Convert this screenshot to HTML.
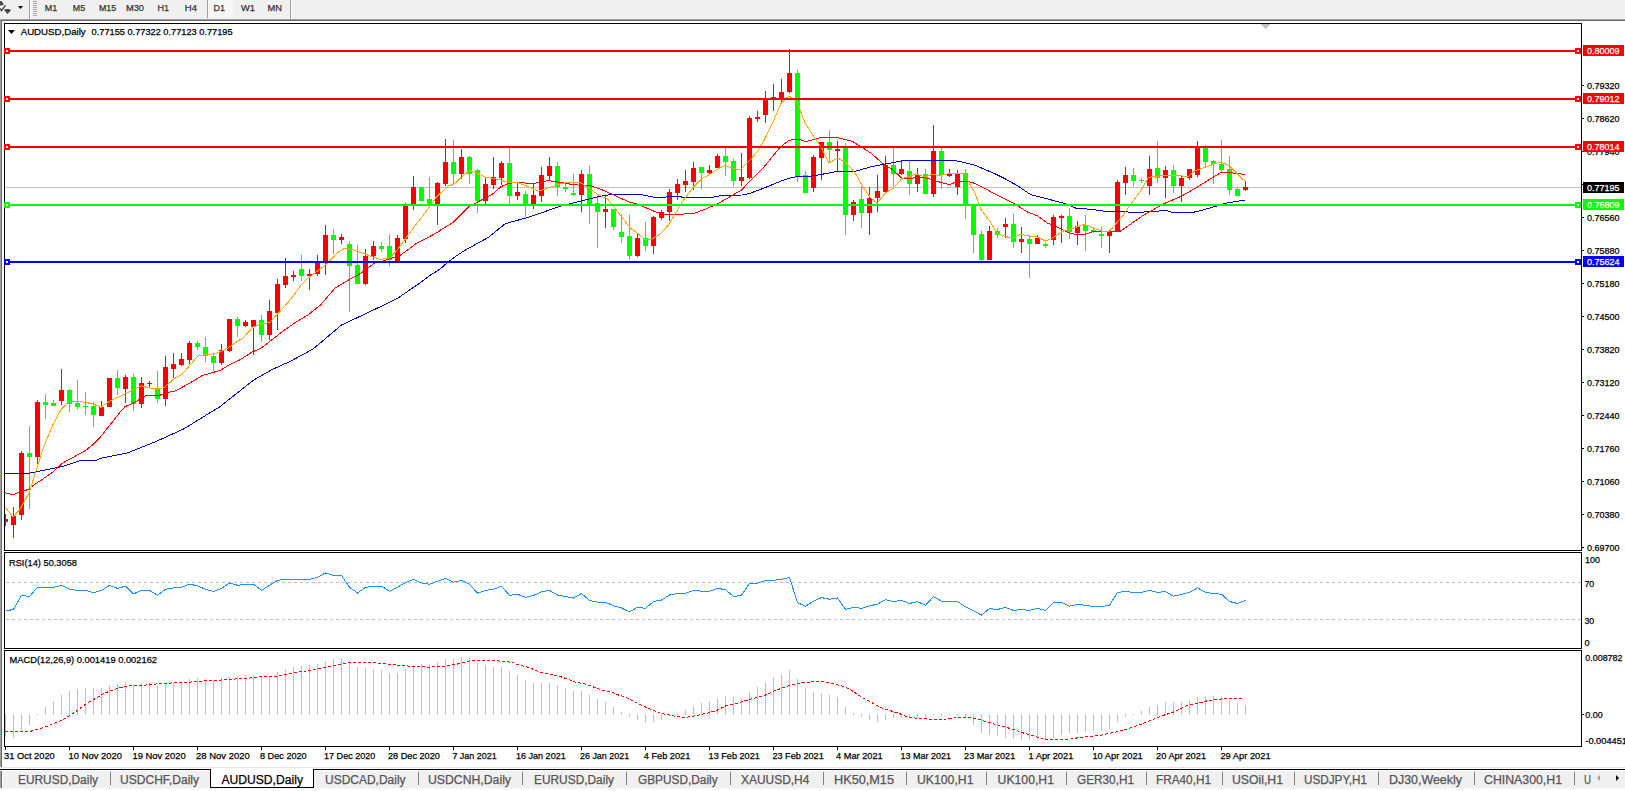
<!DOCTYPE html><html><head><meta charset="utf-8"><title>AUDUSD,Daily</title><style>
html,body{margin:0;padding:0;width:1625px;height:791px;overflow:hidden;background:#f0f0f0}
svg{display:block;position:absolute;left:0;top:0}
text{font-family:"Liberation Sans",sans-serif;white-space:pre;stroke:currentColor;stroke-width:0.25px}
</style></head><body>
<svg width="1625" height="791" viewBox="0 0 1625 791">
<defs><clipPath id="cm"><rect x="5" y="24" width="1576" height="526"/></clipPath>
<clipPath id="cr"><rect x="5" y="553" width="1576" height="95"/></clipPath>
<clipPath id="cd"><rect x="5" y="651" width="1576" height="95"/></clipPath></defs>
<g shape-rendering="crispEdges">
<rect x="0" y="0" width="1625" height="19" fill="#f0f0f0"/>
<rect x="0" y="19" width="1625" height="1" fill="#a0a0a0"/>
<rect x="0" y="20" width="1625" height="1" fill="#696969"/>
<rect x="2" y="21" width="1623" height="746" fill="#ffffff"/>
<rect x="0" y="19" width="1" height="748" fill="#a0a0a0"/>
<rect x="1" y="20" width="1" height="747" fill="#696969"/>
<rect x="29" y="0" width="1" height="19" fill="#a0a0a0"/>
<rect x="30" y="0" width="1" height="19" fill="#ffffff"/>
<rect x="33" y="1" width="4" height="1" fill="#a8a8a8"/>
<rect x="33" y="3" width="4" height="1" fill="#a8a8a8"/>
<rect x="33" y="5" width="4" height="1" fill="#a8a8a8"/>
<rect x="33" y="7" width="4" height="1" fill="#a8a8a8"/>
<rect x="33" y="9" width="4" height="1" fill="#a8a8a8"/>
<rect x="33" y="11" width="4" height="1" fill="#a8a8a8"/>
<rect x="33" y="13" width="4" height="1" fill="#a8a8a8"/>
<rect x="33" y="15" width="4" height="1" fill="#a8a8a8"/>
<rect x="207" y="0" width="1" height="18" fill="#a0a0a0"/>
<rect x="208" y="0" width="25" height="18" fill="#f6f6f6"/>
<rect x="290" y="0" width="1" height="19" fill="#a0a0a0"/>
<rect x="291" y="0" width="1" height="19" fill="#ffffff"/>
<rect x="4" y="23" width="1578" height="1" fill="#000"/>
<rect x="4" y="550" width="1578" height="1" fill="#000"/>
<rect x="4" y="23" width="1" height="528" fill="#000"/>
<rect x="1581" y="23" width="1" height="528" fill="#000"/>
<rect x="4" y="552" width="1578" height="1" fill="#000"/>
<rect x="4" y="648" width="1578" height="1" fill="#000"/>
<rect x="4" y="552" width="1" height="97" fill="#000"/>
<rect x="1581" y="552" width="1" height="97" fill="#000"/>
<rect x="4" y="650" width="1578" height="1" fill="#000"/>
<rect x="4" y="746" width="1578" height="1" fill="#000"/>
<rect x="4" y="650" width="1" height="97" fill="#000"/>
<rect x="1581" y="650" width="1" height="97" fill="#000"/>
<rect x="0" y="767" width="1625" height="1" fill="#e3e3e3"/>
<rect x="0" y="768" width="1625" height="1" fill="#ffffff"/>
<rect x="0" y="769" width="1625" height="1" fill="#000000"/>
<rect x="0" y="770" width="1625" height="1" fill="#ffffff"/>
<rect x="0" y="771" width="1625" height="17" fill="#f0f0f0"/>
<rect x="0" y="771" width="1" height="17" fill="#a0a0a0"/>
<rect x="1" y="771" width="1" height="17" fill="#696969"/>
<rect x="2" y="771" width="1" height="17" fill="#ffffff"/>
<rect x="0" y="788" width="1625" height="1" fill="#f6f6f6"/>
<rect x="0" y="789" width="1625" height="2" fill="#ffffff"/>
</g>
<g clip-path="url(#cm)" shape-rendering="crispEdges">
<rect x="5" y="187" width="1576" height="1" fill="#c0c0c0"/>
<rect x="5" y="514" width="1" height="12" fill="#ff0000"/>
<rect x="3" y="519" width="5" height="3" fill="#ff0000"/>
<rect x="13" y="507" width="1" height="31" fill="#ff0000"/>
<rect x="11" y="516" width="5" height="9" fill="#ff0000"/>
<rect x="21" y="451" width="1" height="69" fill="#ff0000"/>
<rect x="19" y="453" width="5" height="62" fill="#ff0000"/>
<rect x="29" y="426" width="1" height="83" fill="#00ff00"/>
<rect x="27" y="453" width="5" height="4" fill="#00ff00"/>
<rect x="37" y="400" width="1" height="64" fill="#ff0000"/>
<rect x="35" y="402" width="5" height="55" fill="#ff0000"/>
<rect x="45" y="394" width="1" height="25" fill="#00ff00"/>
<rect x="43" y="402" width="5" height="3" fill="#00ff00"/>
<rect x="53" y="400" width="1" height="6" fill="#00ff00"/>
<rect x="51" y="403" width="5" height="3" fill="#00ff00"/>
<rect x="61" y="369" width="1" height="36" fill="#ff0000"/>
<rect x="59" y="390" width="5" height="11" fill="#ff0000"/>
<rect x="69" y="389" width="1" height="23" fill="#00ff00"/>
<rect x="67" y="390" width="5" height="14" fill="#00ff00"/>
<rect x="77" y="380" width="1" height="29" fill="#00ff00"/>
<rect x="75" y="403" width="5" height="4" fill="#00ff00"/>
<rect x="85" y="392" width="1" height="23" fill="#00ff00"/>
<rect x="83" y="406" width="5" height="1" fill="#00ff00"/>
<rect x="93" y="402" width="1" height="25" fill="#00ff00"/>
<rect x="91" y="406" width="5" height="9" fill="#00ff00"/>
<rect x="101" y="401" width="1" height="15" fill="#ff0000"/>
<rect x="99" y="407" width="5" height="9" fill="#ff0000"/>
<rect x="109" y="378" width="1" height="29" fill="#ff0000"/>
<rect x="107" y="378" width="5" height="29" fill="#ff0000"/>
<rect x="117" y="370" width="1" height="25" fill="#00ff00"/>
<rect x="115" y="378" width="5" height="10" fill="#00ff00"/>
<rect x="125" y="375" width="1" height="28" fill="#ff0000"/>
<rect x="123" y="377" width="5" height="12" fill="#ff0000"/>
<rect x="133" y="374" width="1" height="37" fill="#00ff00"/>
<rect x="131" y="377" width="5" height="27" fill="#00ff00"/>
<rect x="141" y="377" width="1" height="31" fill="#ff0000"/>
<rect x="139" y="383" width="5" height="21" fill="#ff0000"/>
<rect x="149" y="381" width="1" height="6" fill="#ff0000"/>
<rect x="147" y="383" width="5" height="1" fill="#ff0000"/>
<rect x="157" y="371" width="1" height="32" fill="#00ff00"/>
<rect x="155" y="389" width="5" height="10" fill="#00ff00"/>
<rect x="165" y="356" width="1" height="50" fill="#ff0000"/>
<rect x="163" y="367" width="5" height="32" fill="#ff0000"/>
<rect x="173" y="353" width="1" height="25" fill="#ff0000"/>
<rect x="171" y="364" width="5" height="5" fill="#ff0000"/>
<rect x="181" y="353" width="1" height="13" fill="#ff0000"/>
<rect x="179" y="359" width="5" height="6" fill="#ff0000"/>
<rect x="189" y="341" width="1" height="23" fill="#ff0000"/>
<rect x="187" y="343" width="5" height="17" fill="#ff0000"/>
<rect x="197" y="341" width="1" height="9" fill="#00ff00"/>
<rect x="195" y="343" width="5" height="4" fill="#00ff00"/>
<rect x="205" y="337" width="1" height="25" fill="#00ff00"/>
<rect x="203" y="347" width="5" height="9" fill="#00ff00"/>
<rect x="213" y="354" width="1" height="17" fill="#00ff00"/>
<rect x="211" y="356" width="5" height="7" fill="#00ff00"/>
<rect x="221" y="344" width="1" height="21" fill="#ff0000"/>
<rect x="219" y="350" width="5" height="13" fill="#ff0000"/>
<rect x="229" y="319" width="1" height="33" fill="#ff0000"/>
<rect x="227" y="319" width="5" height="32" fill="#ff0000"/>
<rect x="237" y="317" width="1" height="20" fill="#00ff00"/>
<rect x="235" y="319" width="5" height="7" fill="#00ff00"/>
<rect x="245" y="320" width="1" height="7" fill="#ff0000"/>
<rect x="243" y="322" width="5" height="4" fill="#ff0000"/>
<rect x="253" y="320" width="1" height="35" fill="#ff0000"/>
<rect x="251" y="320" width="5" height="7" fill="#ff0000"/>
<rect x="261" y="315" width="1" height="27" fill="#00ff00"/>
<rect x="259" y="320" width="5" height="15" fill="#00ff00"/>
<rect x="269" y="300" width="1" height="40" fill="#ff0000"/>
<rect x="267" y="311" width="5" height="24" fill="#ff0000"/>
<rect x="277" y="279" width="1" height="51" fill="#ff0000"/>
<rect x="275" y="284" width="5" height="29" fill="#ff0000"/>
<rect x="285" y="258" width="1" height="30" fill="#ff0000"/>
<rect x="283" y="276" width="5" height="9" fill="#ff0000"/>
<rect x="293" y="271" width="1" height="10" fill="#ff0000"/>
<rect x="291" y="275" width="5" height="2" fill="#ff0000"/>
<rect x="301" y="255" width="1" height="26" fill="#00ff00"/>
<rect x="299" y="269" width="5" height="7" fill="#00ff00"/>
<rect x="309" y="269" width="1" height="21" fill="#ff0000"/>
<rect x="307" y="274" width="5" height="2" fill="#ff0000"/>
<rect x="317" y="255" width="1" height="21" fill="#ff0000"/>
<rect x="315" y="262" width="5" height="12" fill="#ff0000"/>
<rect x="325" y="225" width="1" height="50" fill="#ff0000"/>
<rect x="323" y="235" width="5" height="27" fill="#ff0000"/>
<rect x="333" y="229" width="1" height="25" fill="#00ff00"/>
<rect x="331" y="235" width="5" height="5" fill="#00ff00"/>
<rect x="341" y="234" width="1" height="10" fill="#ff0000"/>
<rect x="339" y="237" width="5" height="3" fill="#ff0000"/>
<rect x="349" y="241" width="1" height="71" fill="#00ff00"/>
<rect x="347" y="244" width="5" height="22" fill="#00ff00"/>
<rect x="357" y="245" width="1" height="39" fill="#00ff00"/>
<rect x="355" y="265" width="5" height="19" fill="#00ff00"/>
<rect x="365" y="249" width="1" height="36" fill="#ff0000"/>
<rect x="363" y="256" width="5" height="28" fill="#ff0000"/>
<rect x="373" y="241" width="1" height="19" fill="#ff0000"/>
<rect x="371" y="246" width="5" height="10" fill="#ff0000"/>
<rect x="381" y="242" width="1" height="10" fill="#00ff00"/>
<rect x="379" y="246" width="5" height="3" fill="#00ff00"/>
<rect x="389" y="234" width="1" height="32" fill="#00ff00"/>
<rect x="387" y="246" width="5" height="14" fill="#00ff00"/>
<rect x="397" y="235" width="1" height="26" fill="#ff0000"/>
<rect x="395" y="238" width="5" height="23" fill="#ff0000"/>
<rect x="405" y="203" width="1" height="40" fill="#ff0000"/>
<rect x="403" y="205" width="5" height="34" fill="#ff0000"/>
<rect x="413" y="176" width="1" height="34" fill="#ff0000"/>
<rect x="411" y="187" width="5" height="17" fill="#ff0000"/>
<rect x="421" y="187" width="1" height="14" fill="#00ff00"/>
<rect x="419" y="187" width="5" height="14" fill="#00ff00"/>
<rect x="429" y="177" width="1" height="29" fill="#00ff00"/>
<rect x="427" y="199" width="5" height="5" fill="#00ff00"/>
<rect x="437" y="182" width="1" height="43" fill="#ff0000"/>
<rect x="435" y="183" width="5" height="21" fill="#ff0000"/>
<rect x="445" y="139" width="1" height="47" fill="#ff0000"/>
<rect x="443" y="162" width="5" height="22" fill="#ff0000"/>
<rect x="453" y="140" width="1" height="45" fill="#00ff00"/>
<rect x="451" y="162" width="5" height="12" fill="#00ff00"/>
<rect x="461" y="149" width="1" height="30" fill="#ff0000"/>
<rect x="459" y="157" width="5" height="17" fill="#ff0000"/>
<rect x="469" y="156" width="1" height="28" fill="#00ff00"/>
<rect x="467" y="157" width="5" height="17" fill="#00ff00"/>
<rect x="477" y="169" width="1" height="44" fill="#00ff00"/>
<rect x="475" y="170" width="5" height="31" fill="#00ff00"/>
<rect x="485" y="178" width="1" height="26" fill="#ff0000"/>
<rect x="483" y="184" width="5" height="17" fill="#ff0000"/>
<rect x="493" y="157" width="1" height="32" fill="#ff0000"/>
<rect x="491" y="177" width="5" height="8" fill="#ff0000"/>
<rect x="501" y="161" width="1" height="24" fill="#ff0000"/>
<rect x="499" y="163" width="5" height="15" fill="#ff0000"/>
<rect x="509" y="148" width="1" height="56" fill="#00ff00"/>
<rect x="507" y="163" width="5" height="33" fill="#00ff00"/>
<rect x="517" y="183" width="1" height="17" fill="#ff0000"/>
<rect x="515" y="192" width="5" height="4" fill="#ff0000"/>
<rect x="525" y="191" width="1" height="26" fill="#00ff00"/>
<rect x="523" y="194" width="5" height="10" fill="#00ff00"/>
<rect x="533" y="183" width="1" height="26" fill="#ff0000"/>
<rect x="531" y="195" width="5" height="9" fill="#ff0000"/>
<rect x="541" y="167" width="1" height="35" fill="#ff0000"/>
<rect x="539" y="175" width="5" height="21" fill="#ff0000"/>
<rect x="549" y="157" width="1" height="24" fill="#ff0000"/>
<rect x="547" y="166" width="5" height="10" fill="#ff0000"/>
<rect x="557" y="162" width="1" height="34" fill="#00ff00"/>
<rect x="555" y="166" width="5" height="21" fill="#00ff00"/>
<rect x="565" y="184" width="1" height="8" fill="#00ff00"/>
<rect x="563" y="187" width="5" height="2" fill="#00ff00"/>
<rect x="573" y="174" width="1" height="22" fill="#00ff00"/>
<rect x="571" y="193" width="5" height="2" fill="#00ff00"/>
<rect x="581" y="170" width="1" height="42" fill="#ff0000"/>
<rect x="579" y="174" width="5" height="21" fill="#ff0000"/>
<rect x="589" y="166" width="1" height="58" fill="#00ff00"/>
<rect x="587" y="174" width="5" height="30" fill="#00ff00"/>
<rect x="597" y="196" width="1" height="52" fill="#00ff00"/>
<rect x="595" y="203" width="5" height="9" fill="#00ff00"/>
<rect x="605" y="196" width="1" height="32" fill="#ff0000"/>
<rect x="603" y="209" width="5" height="3" fill="#ff0000"/>
<rect x="613" y="209" width="1" height="21" fill="#00ff00"/>
<rect x="611" y="209" width="5" height="18" fill="#00ff00"/>
<rect x="621" y="214" width="1" height="29" fill="#00ff00"/>
<rect x="619" y="232" width="5" height="5" fill="#00ff00"/>
<rect x="629" y="215" width="1" height="45" fill="#00ff00"/>
<rect x="627" y="236" width="5" height="20" fill="#00ff00"/>
<rect x="637" y="233" width="1" height="24" fill="#ff0000"/>
<rect x="635" y="238" width="5" height="18" fill="#ff0000"/>
<rect x="645" y="222" width="1" height="29" fill="#00ff00"/>
<rect x="643" y="238" width="5" height="8" fill="#00ff00"/>
<rect x="653" y="216" width="1" height="38" fill="#ff0000"/>
<rect x="651" y="217" width="5" height="29" fill="#ff0000"/>
<rect x="661" y="210" width="1" height="10" fill="#ff0000"/>
<rect x="659" y="212" width="5" height="6" fill="#ff0000"/>
<rect x="669" y="189" width="1" height="32" fill="#ff0000"/>
<rect x="667" y="192" width="5" height="20" fill="#ff0000"/>
<rect x="677" y="179" width="1" height="21" fill="#ff0000"/>
<rect x="675" y="184" width="5" height="9" fill="#ff0000"/>
<rect x="685" y="170" width="1" height="22" fill="#ff0000"/>
<rect x="683" y="181" width="5" height="4" fill="#ff0000"/>
<rect x="693" y="162" width="1" height="28" fill="#ff0000"/>
<rect x="691" y="168" width="5" height="14" fill="#ff0000"/>
<rect x="701" y="167" width="1" height="22" fill="#00ff00"/>
<rect x="699" y="167" width="5" height="6" fill="#00ff00"/>
<rect x="709" y="165" width="1" height="9" fill="#ff0000"/>
<rect x="707" y="170" width="5" height="3" fill="#ff0000"/>
<rect x="717" y="154" width="1" height="14" fill="#ff0000"/>
<rect x="715" y="156" width="5" height="12" fill="#ff0000"/>
<rect x="725" y="148" width="1" height="28" fill="#00ff00"/>
<rect x="723" y="156" width="5" height="6" fill="#00ff00"/>
<rect x="733" y="159" width="1" height="27" fill="#00ff00"/>
<rect x="731" y="161" width="5" height="20" fill="#00ff00"/>
<rect x="741" y="153" width="1" height="33" fill="#ff0000"/>
<rect x="739" y="177" width="5" height="4" fill="#ff0000"/>
<rect x="749" y="116" width="1" height="63" fill="#ff0000"/>
<rect x="747" y="118" width="5" height="60" fill="#ff0000"/>
<rect x="757" y="111" width="1" height="11" fill="#ff0000"/>
<rect x="755" y="117" width="5" height="2" fill="#ff0000"/>
<rect x="765" y="91" width="1" height="32" fill="#ff0000"/>
<rect x="763" y="99" width="5" height="16" fill="#ff0000"/>
<rect x="773" y="84" width="1" height="27" fill="#ff0000"/>
<rect x="771" y="97" width="5" height="1" fill="#ff0000"/>
<rect x="781" y="79" width="1" height="25" fill="#ff0000"/>
<rect x="779" y="92" width="5" height="8" fill="#ff0000"/>
<rect x="789" y="49" width="1" height="44" fill="#ff0000"/>
<rect x="787" y="73" width="5" height="19" fill="#ff0000"/>
<rect x="797" y="70" width="1" height="112" fill="#00ff00"/>
<rect x="795" y="73" width="5" height="103" fill="#00ff00"/>
<rect x="805" y="171" width="1" height="22" fill="#00ff00"/>
<rect x="803" y="175" width="5" height="18" fill="#00ff00"/>
<rect x="813" y="155" width="1" height="37" fill="#ff0000"/>
<rect x="811" y="157" width="5" height="31" fill="#ff0000"/>
<rect x="821" y="142" width="1" height="38" fill="#ff0000"/>
<rect x="819" y="142" width="5" height="16" fill="#ff0000"/>
<rect x="829" y="130" width="1" height="33" fill="#00ff00"/>
<rect x="827" y="142" width="5" height="8" fill="#00ff00"/>
<rect x="837" y="141" width="1" height="30" fill="#ff0000"/>
<rect x="835" y="149" width="5" height="2" fill="#ff0000"/>
<rect x="845" y="143" width="1" height="92" fill="#00ff00"/>
<rect x="843" y="148" width="5" height="67" fill="#00ff00"/>
<rect x="853" y="200" width="1" height="21" fill="#ff0000"/>
<rect x="851" y="202" width="5" height="13" fill="#ff0000"/>
<rect x="861" y="186" width="1" height="42" fill="#00ff00"/>
<rect x="859" y="199" width="5" height="14" fill="#00ff00"/>
<rect x="869" y="187" width="1" height="48" fill="#ff0000"/>
<rect x="867" y="198" width="5" height="15" fill="#ff0000"/>
<rect x="877" y="175" width="1" height="37" fill="#ff0000"/>
<rect x="875" y="191" width="5" height="7" fill="#ff0000"/>
<rect x="885" y="156" width="1" height="36" fill="#ff0000"/>
<rect x="883" y="165" width="5" height="27" fill="#ff0000"/>
<rect x="893" y="148" width="1" height="38" fill="#00ff00"/>
<rect x="891" y="165" width="5" height="9" fill="#00ff00"/>
<rect x="901" y="160" width="1" height="15" fill="#ff0000"/>
<rect x="899" y="169" width="5" height="5" fill="#ff0000"/>
<rect x="909" y="161" width="1" height="34" fill="#00ff00"/>
<rect x="907" y="171" width="5" height="13" fill="#00ff00"/>
<rect x="917" y="168" width="1" height="24" fill="#ff0000"/>
<rect x="915" y="175" width="5" height="9" fill="#ff0000"/>
<rect x="925" y="169" width="1" height="25" fill="#00ff00"/>
<rect x="923" y="174" width="5" height="20" fill="#00ff00"/>
<rect x="933" y="125" width="1" height="72" fill="#ff0000"/>
<rect x="931" y="151" width="5" height="43" fill="#ff0000"/>
<rect x="941" y="148" width="1" height="41" fill="#00ff00"/>
<rect x="939" y="151" width="5" height="24" fill="#00ff00"/>
<rect x="949" y="169" width="1" height="8" fill="#ff0000"/>
<rect x="947" y="173" width="5" height="3" fill="#ff0000"/>
<rect x="957" y="170" width="1" height="25" fill="#ff0000"/>
<rect x="955" y="174" width="5" height="13" fill="#ff0000"/>
<rect x="965" y="169" width="1" height="50" fill="#00ff00"/>
<rect x="963" y="173" width="5" height="32" fill="#00ff00"/>
<rect x="973" y="205" width="1" height="48" fill="#00ff00"/>
<rect x="971" y="205" width="5" height="30" fill="#00ff00"/>
<rect x="981" y="231" width="1" height="30" fill="#00ff00"/>
<rect x="979" y="234" width="5" height="26" fill="#00ff00"/>
<rect x="989" y="226" width="1" height="34" fill="#ff0000"/>
<rect x="987" y="231" width="5" height="29" fill="#ff0000"/>
<rect x="997" y="228" width="1" height="10" fill="#00ff00"/>
<rect x="995" y="231" width="5" height="4" fill="#00ff00"/>
<rect x="1005" y="218" width="1" height="20" fill="#ff0000"/>
<rect x="1003" y="224" width="5" height="3" fill="#ff0000"/>
<rect x="1013" y="214" width="1" height="34" fill="#00ff00"/>
<rect x="1011" y="224" width="5" height="18" fill="#00ff00"/>
<rect x="1021" y="227" width="1" height="26" fill="#ff0000"/>
<rect x="1019" y="239" width="5" height="3" fill="#ff0000"/>
<rect x="1029" y="235" width="1" height="43" fill="#00ff00"/>
<rect x="1027" y="239" width="5" height="5" fill="#00ff00"/>
<rect x="1037" y="235" width="1" height="9" fill="#ff0000"/>
<rect x="1035" y="238" width="5" height="6" fill="#ff0000"/>
<rect x="1045" y="243" width="1" height="5" fill="#00ff00"/>
<rect x="1043" y="244" width="5" height="2" fill="#00ff00"/>
<rect x="1053" y="215" width="1" height="30" fill="#ff0000"/>
<rect x="1051" y="217" width="5" height="23" fill="#ff0000"/>
<rect x="1061" y="215" width="1" height="28" fill="#ff0000"/>
<rect x="1059" y="216" width="5" height="2" fill="#ff0000"/>
<rect x="1069" y="208" width="1" height="31" fill="#00ff00"/>
<rect x="1067" y="216" width="5" height="16" fill="#00ff00"/>
<rect x="1077" y="221" width="1" height="24" fill="#ff0000"/>
<rect x="1075" y="226" width="5" height="7" fill="#ff0000"/>
<rect x="1085" y="215" width="1" height="36" fill="#00ff00"/>
<rect x="1083" y="225" width="5" height="6" fill="#00ff00"/>
<rect x="1093" y="228" width="1" height="5" fill="#00ff00"/>
<rect x="1091" y="230" width="5" height="2" fill="#00ff00"/>
<rect x="1101" y="227" width="1" height="21" fill="#00ff00"/>
<rect x="1099" y="234" width="5" height="2" fill="#00ff00"/>
<rect x="1109" y="230" width="1" height="23" fill="#ff0000"/>
<rect x="1107" y="231" width="5" height="5" fill="#ff0000"/>
<rect x="1117" y="180" width="1" height="52" fill="#ff0000"/>
<rect x="1115" y="182" width="5" height="50" fill="#ff0000"/>
<rect x="1125" y="167" width="1" height="28" fill="#ff0000"/>
<rect x="1123" y="175" width="5" height="8" fill="#ff0000"/>
<rect x="1133" y="168" width="1" height="18" fill="#00ff00"/>
<rect x="1131" y="175" width="5" height="6" fill="#00ff00"/>
<rect x="1141" y="178" width="1" height="5" fill="#00ff00"/>
<rect x="1139" y="180" width="5" height="1" fill="#00ff00"/>
<rect x="1149" y="156" width="1" height="39" fill="#ff0000"/>
<rect x="1147" y="169" width="5" height="17" fill="#ff0000"/>
<rect x="1157" y="141" width="1" height="42" fill="#00ff00"/>
<rect x="1155" y="168" width="5" height="10" fill="#00ff00"/>
<rect x="1165" y="166" width="1" height="32" fill="#ff0000"/>
<rect x="1163" y="170" width="5" height="8" fill="#ff0000"/>
<rect x="1173" y="165" width="1" height="28" fill="#00ff00"/>
<rect x="1171" y="170" width="5" height="16" fill="#00ff00"/>
<rect x="1181" y="175" width="1" height="27" fill="#ff0000"/>
<rect x="1179" y="178" width="5" height="8" fill="#ff0000"/>
<rect x="1189" y="169" width="1" height="11" fill="#ff0000"/>
<rect x="1187" y="169" width="5" height="9" fill="#ff0000"/>
<rect x="1197" y="141" width="1" height="36" fill="#ff0000"/>
<rect x="1195" y="147" width="5" height="28" fill="#ff0000"/>
<rect x="1205" y="145" width="1" height="22" fill="#00ff00"/>
<rect x="1203" y="148" width="5" height="14" fill="#00ff00"/>
<rect x="1213" y="160" width="1" height="24" fill="#00ff00"/>
<rect x="1211" y="161" width="5" height="3" fill="#00ff00"/>
<rect x="1221" y="140" width="1" height="32" fill="#00ff00"/>
<rect x="1219" y="164" width="5" height="6" fill="#00ff00"/>
<rect x="1229" y="156" width="1" height="39" fill="#00ff00"/>
<rect x="1227" y="169" width="5" height="21" fill="#00ff00"/>
<rect x="1237" y="187" width="1" height="9" fill="#00ff00"/>
<rect x="1235" y="189" width="5" height="7" fill="#00ff00"/>
<rect x="1245" y="181" width="1" height="10" fill="#ff0000"/>
<rect x="1243" y="187" width="5" height="3" fill="#ff0000"/>
</g>
<polyline clip-path="url(#cm)" points="5.0,473.3 29.0,473.3 45.0,470.0 61.0,466.9 80.0,460.8 97.0,460.2 100.0,458.4 127.8,452.8 155.6,441.7 183.4,429.1 219.6,406.9 239.0,391.6 253.0,380.5 271.7,369.7 290.0,361.5 313.4,348.8 341.2,325.2 365.0,314.0 396.8,298.8 420.0,282.9 430.1,275.3 440.2,269.0 447.3,262.6 455.4,256.6 464.5,250.5 488.0,237.6 505.3,223.7 530.0,216.8 560.0,206.3 571.1,203.5 585.0,200.1 598.9,196.6 612.8,194.2 640.7,194.5 650.4,196.6 657.4,197.6 665.7,197.0 680.0,196.6 683.4,197.5 711.2,197.5 721.4,195.6 741.6,195.0 749.2,193.7 765.6,187.4 780.0,181.5 792.6,177.1 809.1,176.5 820.5,174.6 836.9,171.4 840.0,171.6 855.2,171.3 870.3,167.0 885.5,164.0 905.2,160.2 952.2,160.2 960.0,161.5 975.2,165.3 994.9,173.7 1005.5,179.0 1017.6,185.8 1029.8,194.1 1032.1,195.0 1065.1,203.5 1076.4,208.4 1090.1,209.2 1106.0,211.5 1120.0,211.5 1138.2,212.6 1148.5,211.5 1161.0,210.9 1163.3,210.1 1167.8,210.9 1172.4,212.6 1191.7,212.6 1199.7,210.9 1216.7,206.0 1224.7,203.5 1233.8,201.8 1245.2,200.1" fill="none" stroke="#0000c8" stroke-width="1" shape-rendering="crispEdges"/>
<polyline clip-path="url(#cm)" points="5.0,492.8 13.2,494.8 20.2,491.8 28.3,489.5 34.4,484.5 42.5,479.3 52.6,472.2 62.7,463.0 85.0,450.8 93.0,444.7 100.0,437.5 120.0,412.3 125.0,406.6 132.6,403.5 145.3,395.9 157.9,395.9 169.3,392.1 175.6,390.8 188.3,383.9 202.2,375.6 211.0,373.1 221.2,369.9 230.0,364.3 240.0,359.8 252.2,352.0 261.3,348.0 271.7,339.9 283.1,331.0 295.8,322.2 308.4,314.6 321.0,304.5 335.0,288.1 350.0,279.2 360.0,273.8 376.8,261.3 380.0,262.0 400.2,255.3 417.4,242.7 426.5,238.2 438.7,231.6 440.0,230.4 452.6,222.8 469.1,206.4 477.9,201.9 493.1,193.7 500.7,186.8 508.3,183.6 515.9,182.4 533.6,183.6 538.6,182.4 547.8,180.6 560.0,182.3 573.9,184.8 589.2,185.5 601.7,189.6 614.2,195.2 629.5,202.2 637.9,204.2 649.0,209.1 657.4,212.6 665.7,214.3 680.0,214.3 694.8,213.1 707.5,208.3 718.8,203.2 734.0,194.4 741.6,189.9 751.7,179.2 764.3,166.5 780.0,147.4 788.8,140.5 793.9,139.2 800.2,139.8 805.3,141.5 810.3,140.5 819.2,137.9 834.4,137.3 840.0,138.2 852.1,141.2 858.2,145.0 870.3,152.6 882.5,163.2 893.1,170.1 902.2,178.4 911.3,178.4 918.9,176.9 928.0,178.4 937.1,181.4 949.2,184.5 958.3,181.4 960.0,181.2 967.6,181.2 975.2,183.5 984.3,188.1 996.8,195.0 1013.9,203.5 1027.5,212.0 1037.8,216.0 1046.9,222.9 1053.7,225.2 1060.5,228.6 1068.5,232.6 1075.3,234.3 1085.5,234.3 1092.4,232.0 1120.0,231.4 1143.9,214.9 1164.4,203.5 1181.5,196.1 1197.4,187.0 1211.1,178.5 1221.3,172.2 1231.5,172.8 1245.2,174.5" fill="none" stroke="#ff0000" stroke-width="1" shape-rendering="crispEdges"/>
<polyline clip-path="url(#cm)" points="5.0,507.0 13.0,517.0 20.0,509.3 29.0,493.0 36.4,470.0 43.4,447.7 52.5,425.5 60.6,410.3 68.7,401.2 77.0,401.3 85.0,402.2 93.0,404.0 101.0,407.3 109.0,401.7 117.0,397.6 120.0,396.5 132.6,390.2 141.5,385.8 147.8,387.7 156.7,388.9 164.3,387.7 173.1,379.4 182.0,374.4 198.4,355.4 206.0,354.8 216.1,353.5 226.2,349.1 240.0,339.6 241.4,339.9 252.8,327.3 261.6,323.5 269.2,322.8 280.6,310.8 290.7,299.4 300.8,285.5 308.4,277.9 318.5,270.3 327.4,263.4 337.5,252.6 343.8,248.9 350.0,248.9 365.6,254.3 380.0,259.4 390.1,257.9 398.2,248.8 406.3,237.6 414.4,226.5 422.5,216.4 430.6,205.3 436.6,196.7 440.0,193.7 447.6,186.2 453.9,184.3 462.1,176.7 469.7,170.3 476.7,173.1 485.5,177.3 493.1,178.6 500.7,179.8 508.3,183.0 517.1,182.4 528.5,186.8 538.6,191.2 556.2,185.4 560.0,184.1 568.3,182.3 580.9,182.7 587.8,187.6 598.9,195.2 607.3,198.7 614.2,207.0 622.6,218.2 630.9,228.6 637.9,233.4 644.8,239.7 651.8,239.0 660.1,234.1 668.5,225.1 680.0,205.6 682.2,201.9 693.6,186.8 701.1,179.2 710.0,174.1 718.8,168.4 725.2,165.3 732.7,168.4 740.3,169.7 750.4,159.6 758.0,150.7 764.3,140.0 773.0,122.0 781.0,103.4 789.0,95.8 797.0,102.2 805.0,122.7 813.0,135.5 821.0,146.5 829.0,163.0 837.8,158.0 840.0,159.4 846.1,162.5 855.2,173.1 862.8,186.7 870.3,197.4 877.2,203.1 885.5,192.8 893.1,188.3 902.2,178.4 908.3,176.9 915.8,173.8 924.9,176.9 932.5,174.3 940.1,175.4 952.2,173.1 962.9,173.4 964.6,174.4 969.1,182.8 975.2,193.4 981.2,210.0 990.0,221.2 996.8,233.1 1004.8,236.5 1012.8,238.0 1020.7,234.2 1028.7,236.0 1037.8,237.1 1045.7,241.1 1053.7,237.1 1062.8,231.2 1071.9,228.6 1084.4,224.3 1092.4,227.4 1101.5,231.2 1109.5,231.4 1120.0,218.9 1123.4,214.9 1131.4,203.5 1140.5,191.0 1148.5,177.4 1154.1,176.4 1168.9,175.1 1188.3,176.4 1195.1,170.5 1204.2,167.7 1213.3,164.3 1220.2,162.0 1229.3,165.4 1233.8,170.5 1239.5,176.2 1245.2,181.3" fill="none" stroke="#ffa500" stroke-width="1" shape-rendering="crispEdges"/>
<g shape-rendering="crispEdges">
<rect x="5" y="50" width="1576" height="2" fill="#ff0000"/>
<rect x="4" y="48" width="6" height="6" fill="#ff0000"/>
<rect x="6" y="50" width="2" height="2" fill="#ffffff"/>
<rect x="1575" y="48" width="6" height="6" fill="#ff0000"/>
<rect x="1577" y="50" width="2" height="2" fill="#ffffff"/>
<rect x="5" y="98" width="1576" height="2" fill="#ff0000"/>
<rect x="4" y="96" width="6" height="6" fill="#ff0000"/>
<rect x="6" y="98" width="2" height="2" fill="#ffffff"/>
<rect x="1575" y="96" width="6" height="6" fill="#ff0000"/>
<rect x="1577" y="98" width="2" height="2" fill="#ffffff"/>
<rect x="5" y="146" width="1576" height="2" fill="#ff0000"/>
<rect x="4" y="144" width="6" height="6" fill="#ff0000"/>
<rect x="6" y="146" width="2" height="2" fill="#ffffff"/>
<rect x="1575" y="144" width="6" height="6" fill="#ff0000"/>
<rect x="1577" y="146" width="2" height="2" fill="#ffffff"/>
<rect x="5" y="204" width="1576" height="2" fill="#00ff00"/>
<rect x="4" y="202" width="6" height="6" fill="#00ff00"/>
<rect x="6" y="204" width="2" height="2" fill="#ffffff"/>
<rect x="1575" y="202" width="6" height="6" fill="#00ff00"/>
<rect x="1577" y="204" width="2" height="2" fill="#ffffff"/>
<rect x="5" y="261" width="1576" height="2" fill="#0000ff"/>
<rect x="4" y="259" width="6" height="6" fill="#0000ff"/>
<rect x="6" y="261" width="2" height="2" fill="#ffffff"/>
<rect x="1575" y="259" width="6" height="6" fill="#0000ff"/>
<rect x="1577" y="261" width="2" height="2" fill="#ffffff"/>
<polygon points="1260,24 1270,24 1265,29" fill="#c0c0c0"/>
<polygon points="8,30 15,30 11.5,34" fill="#000" shape-rendering="auto"/>
</g>
<g shape-rendering="crispEdges">
<rect x="1582" y="85" width="2" height="1" fill="#000"/>
<rect x="1582" y="118" width="2" height="1" fill="#000"/>
<rect x="1582" y="151" width="2" height="1" fill="#000"/>
<rect x="1582" y="184" width="2" height="1" fill="#000"/>
<rect x="1582" y="217" width="2" height="1" fill="#000"/>
<rect x="1582" y="250" width="2" height="1" fill="#000"/>
<rect x="1582" y="283" width="2" height="1" fill="#000"/>
<rect x="1582" y="316" width="2" height="1" fill="#000"/>
<rect x="1582" y="349" width="2" height="1" fill="#000"/>
<rect x="1582" y="382" width="2" height="1" fill="#000"/>
<rect x="1582" y="415" width="2" height="1" fill="#000"/>
<rect x="1582" y="448" width="2" height="1" fill="#000"/>
<rect x="1582" y="481" width="2" height="1" fill="#000"/>
<rect x="1582" y="514" width="2" height="1" fill="#000"/>
<rect x="1582" y="547" width="2" height="1" fill="#000"/>
</g>
<text x="1587.00" y="89" font-size="9.4" fill="#000" color="#000" textLength="32.50" lengthAdjust="spacingAndGlyphs">0.79320</text>
<text x="1587.00" y="122" font-size="9.4" fill="#000" color="#000" textLength="32.50" lengthAdjust="spacingAndGlyphs">0.78620</text>
<text x="1587.00" y="155" font-size="9.4" fill="#000" color="#000" textLength="32.50" lengthAdjust="spacingAndGlyphs">0.77940</text>
<text x="1587.00" y="188" font-size="9.4" fill="#000" color="#000" textLength="32.50" lengthAdjust="spacingAndGlyphs">0.77260</text>
<text x="1587.00" y="221" font-size="9.4" fill="#000" color="#000" textLength="32.50" lengthAdjust="spacingAndGlyphs">0.76560</text>
<text x="1587.00" y="254" font-size="9.4" fill="#000" color="#000" textLength="32.50" lengthAdjust="spacingAndGlyphs">0.75880</text>
<text x="1587.00" y="287" font-size="9.4" fill="#000" color="#000" textLength="32.50" lengthAdjust="spacingAndGlyphs">0.75180</text>
<text x="1587.00" y="320" font-size="9.4" fill="#000" color="#000" textLength="32.50" lengthAdjust="spacingAndGlyphs">0.74500</text>
<text x="1587.00" y="353" font-size="9.4" fill="#000" color="#000" textLength="32.50" lengthAdjust="spacingAndGlyphs">0.73820</text>
<text x="1587.00" y="386" font-size="9.4" fill="#000" color="#000" textLength="32.50" lengthAdjust="spacingAndGlyphs">0.73120</text>
<text x="1587.00" y="419" font-size="9.4" fill="#000" color="#000" textLength="32.50" lengthAdjust="spacingAndGlyphs">0.72440</text>
<text x="1587.00" y="452" font-size="9.4" fill="#000" color="#000" textLength="32.50" lengthAdjust="spacingAndGlyphs">0.71760</text>
<text x="1587.00" y="485" font-size="9.4" fill="#000" color="#000" textLength="32.50" lengthAdjust="spacingAndGlyphs">0.71060</text>
<text x="1587.00" y="518" font-size="9.4" fill="#000" color="#000" textLength="32.50" lengthAdjust="spacingAndGlyphs">0.70380</text>
<text x="1587.00" y="551" font-size="9.4" fill="#000" color="#000" textLength="32.50" lengthAdjust="spacingAndGlyphs">0.69700</text>
<rect x="1583" y="45" width="41" height="11" fill="#ff0000" shape-rendering="crispEdges"/>
<text x="1587.00" y="54" font-size="9.4" fill="#ffffff" color="#ffffff" textLength="32.50" lengthAdjust="spacingAndGlyphs">0.80009</text>
<rect x="1583" y="93" width="41" height="11" fill="#ff0000" shape-rendering="crispEdges"/>
<text x="1587.00" y="102" font-size="9.4" fill="#ffffff" color="#ffffff" textLength="32.50" lengthAdjust="spacingAndGlyphs">0.79012</text>
<rect x="1583" y="141" width="41" height="11" fill="#ff0000" shape-rendering="crispEdges"/>
<text x="1587.00" y="150" font-size="9.4" fill="#ffffff" color="#ffffff" textLength="32.50" lengthAdjust="spacingAndGlyphs">0.78014</text>
<rect x="1583" y="199" width="41" height="11" fill="#00ff00" shape-rendering="crispEdges"/>
<text x="1587.00" y="208" font-size="9.4" fill="#ffffff" color="#ffffff" textLength="32.50" lengthAdjust="spacingAndGlyphs">0.76809</text>
<rect x="1583" y="256" width="41" height="11" fill="#0000ff" shape-rendering="crispEdges"/>
<text x="1587.00" y="265" font-size="9.4" fill="#ffffff" color="#ffffff" textLength="32.50" lengthAdjust="spacingAndGlyphs">0.75624</text>
<rect x="1583" y="182" width="41" height="11" fill="#000000" shape-rendering="crispEdges"/>
<text x="1587.00" y="191" font-size="9.4" fill="#ffffff" color="#ffffff" textLength="32.50" lengthAdjust="spacingAndGlyphs">0.77195</text>
<text x="20.70" y="35" font-size="9.4" fill="#000" color="#000" textLength="64.98" lengthAdjust="spacingAndGlyphs">AUDUSD,Daily</text>
<text x="91.60" y="35" font-size="9.4" fill="#000" color="#000" textLength="140.98" lengthAdjust="spacingAndGlyphs">0.77155 0.77322 0.77123 0.77195</text>
<g shape-rendering="crispEdges">
<line x1="6" y1="582.5" x2="1581" y2="582.5" stroke="#c0c0c0" stroke-width="1" stroke-dasharray="3,3"/>
<line x1="6" y1="619.5" x2="1581" y2="619.5" stroke="#c0c0c0" stroke-width="1" stroke-dasharray="3,3"/>
</g>
<polyline clip-path="url(#cr)" points="5.5,611.2 13.5,609.3 21.5,595.5 29.5,596.5 37.5,587.3 45.5,587.3 53.5,587.3 61.5,585.3 69.5,589.3 77.5,590.4 85.5,590.4 93.5,592.7 101.5,590.4 109.5,585.3 117.5,588.4 125.5,586.2 133.5,593.9 141.5,590.4 149.5,590.4 157.5,595.3 165.5,589.3 173.5,588.0 181.5,587.3 189.5,584.2 197.5,585.8 205.5,589.3 213.5,591.5 221.5,588.4 229.5,583.0 237.5,585.3 245.5,584.2 253.5,584.2 261.5,590.4 269.5,585.3 277.5,580.4 285.5,579.3 293.5,579.3 301.5,579.3 309.5,579.3 317.5,577.3 325.5,573.0 333.5,575.5 341.5,575.5 349.5,587.3 357.5,593.0 365.5,587.3 373.5,586.2 381.5,586.2 389.5,591.2 397.5,587.3 405.5,582.5 413.5,579.3 421.5,583.0 429.5,584.2 437.5,581.2 445.5,578.4 453.5,582.2 461.5,580.4 469.5,584.2 477.5,593.2 485.5,590.4 493.5,589.3 501.5,586.2 509.5,595.3 517.5,594.2 525.5,597.3 533.5,595.5 541.5,591.9 549.5,590.4 557.5,595.0 565.5,596.5 573.5,598.0 581.5,593.5 589.5,600.4 597.5,602.2 605.5,602.2 613.5,605.8 621.5,608.0 629.5,611.9 637.5,607.3 645.5,608.4 653.5,601.5 661.5,600.0 669.5,595.0 677.5,593.5 685.5,593.2 693.5,590.4 701.5,591.2 709.5,591.2 717.5,588.4 725.5,589.6 733.5,596.5 741.5,595.3 749.5,583.2 757.5,583.2 765.5,580.4 773.5,580.4 781.5,579.3 789.5,577.3 797.5,602.7 805.5,606.2 813.5,601.2 821.5,597.6 829.5,599.2 837.5,598.0 845.5,609.3 853.5,607.3 861.5,608.4 869.5,605.8 877.5,604.2 885.5,599.6 893.5,601.5 901.5,600.4 909.5,603.5 917.5,601.6 925.5,605.3 933.5,596.5 941.5,601.2 949.5,601.5 957.5,601.5 965.5,606.8 973.5,610.8 981.5,615.0 989.5,608.5 997.5,609.6 1005.5,607.3 1013.5,610.4 1021.5,609.6 1029.5,610.4 1037.5,608.4 1045.5,610.4 1053.5,602.4 1061.5,602.4 1069.5,606.2 1077.5,604.5 1085.5,605.3 1093.5,606.5 1101.5,606.5 1109.5,605.3 1117.5,592.4 1125.5,591.5 1133.5,592.4 1141.5,592.4 1149.5,590.4 1157.5,592.4 1165.5,591.5 1173.5,596.2 1181.5,594.5 1189.5,592.4 1197.5,587.8 1205.5,592.4 1213.5,593.5 1221.5,594.2 1229.5,601.5 1237.5,603.5 1245.5,600.4" fill="none" stroke="#1e90ff" stroke-width="1" shape-rendering="crispEdges"/>
<text x="9.00" y="566" font-size="9.4" fill="#000" color="#000" textLength="67.98" lengthAdjust="spacingAndGlyphs">RSI(14) 50.3058</text>
<text x="1585.00" y="563" font-size="9.4" fill="#000" color="#000" textLength="14.99" lengthAdjust="spacingAndGlyphs">100</text>
<text x="1584.40" y="587" font-size="9.4" fill="#000" color="#000" textLength="9.82" lengthAdjust="spacingAndGlyphs">70</text>
<text x="1584.40" y="624" font-size="9.4" fill="#000" color="#000" textLength="9.82" lengthAdjust="spacingAndGlyphs">30</text>
<text x="1584.40" y="646" font-size="9.4" fill="#000" color="#000" textLength="5.11" lengthAdjust="spacingAndGlyphs">0</text>
<g clip-path="url(#cd)" shape-rendering="crispEdges">
<rect x="5" y="714" width="1" height="23" fill="#c0c0c0"/>
<rect x="13" y="714" width="1" height="24" fill="#c0c0c0"/>
<rect x="21" y="714" width="1" height="17" fill="#c0c0c0"/>
<rect x="29" y="714" width="1" height="11" fill="#c0c0c0"/>
<rect x="37" y="714" width="1" height="1" fill="#c0c0c0"/>
<rect x="45" y="707" width="1" height="8" fill="#c0c0c0"/>
<rect x="53" y="701" width="1" height="14" fill="#c0c0c0"/>
<rect x="61" y="695" width="1" height="20" fill="#c0c0c0"/>
<rect x="69" y="691" width="1" height="24" fill="#c0c0c0"/>
<rect x="77" y="689" width="1" height="26" fill="#c0c0c0"/>
<rect x="85" y="688" width="1" height="27" fill="#c0c0c0"/>
<rect x="93" y="688" width="1" height="27" fill="#c0c0c0"/>
<rect x="101" y="688" width="1" height="27" fill="#c0c0c0"/>
<rect x="109" y="685" width="1" height="30" fill="#c0c0c0"/>
<rect x="117" y="684" width="1" height="31" fill="#c0c0c0"/>
<rect x="125" y="682" width="1" height="33" fill="#c0c0c0"/>
<rect x="133" y="685" width="1" height="30" fill="#c0c0c0"/>
<rect x="141" y="683" width="1" height="32" fill="#c0c0c0"/>
<rect x="149" y="683" width="1" height="32" fill="#c0c0c0"/>
<rect x="157" y="686" width="1" height="29" fill="#c0c0c0"/>
<rect x="165" y="684" width="1" height="31" fill="#c0c0c0"/>
<rect x="173" y="683" width="1" height="32" fill="#c0c0c0"/>
<rect x="181" y="682" width="1" height="33" fill="#c0c0c0"/>
<rect x="189" y="679" width="1" height="36" fill="#c0c0c0"/>
<rect x="197" y="678" width="1" height="37" fill="#c0c0c0"/>
<rect x="205" y="679" width="1" height="36" fill="#c0c0c0"/>
<rect x="213" y="680" width="1" height="35" fill="#c0c0c0"/>
<rect x="221" y="680" width="1" height="35" fill="#c0c0c0"/>
<rect x="229" y="677" width="1" height="38" fill="#c0c0c0"/>
<rect x="237" y="676" width="1" height="39" fill="#c0c0c0"/>
<rect x="245" y="675" width="1" height="40" fill="#c0c0c0"/>
<rect x="253" y="675" width="1" height="40" fill="#c0c0c0"/>
<rect x="261" y="676" width="1" height="39" fill="#c0c0c0"/>
<rect x="269" y="676" width="1" height="39" fill="#c0c0c0"/>
<rect x="277" y="672" width="1" height="43" fill="#c0c0c0"/>
<rect x="285" y="669" width="1" height="46" fill="#c0c0c0"/>
<rect x="293" y="667" width="1" height="48" fill="#c0c0c0"/>
<rect x="301" y="666" width="1" height="49" fill="#c0c0c0"/>
<rect x="309" y="665" width="1" height="50" fill="#c0c0c0"/>
<rect x="317" y="664" width="1" height="51" fill="#c0c0c0"/>
<rect x="325" y="661" width="1" height="54" fill="#c0c0c0"/>
<rect x="333" y="659" width="1" height="56" fill="#c0c0c0"/>
<rect x="341" y="658" width="1" height="57" fill="#c0c0c0"/>
<rect x="349" y="661" width="1" height="54" fill="#c0c0c0"/>
<rect x="357" y="667" width="1" height="48" fill="#c0c0c0"/>
<rect x="365" y="668" width="1" height="47" fill="#c0c0c0"/>
<rect x="373" y="669" width="1" height="46" fill="#c0c0c0"/>
<rect x="381" y="670" width="1" height="45" fill="#c0c0c0"/>
<rect x="389" y="673" width="1" height="42" fill="#c0c0c0"/>
<rect x="397" y="673" width="1" height="42" fill="#c0c0c0"/>
<rect x="405" y="669" width="1" height="46" fill="#c0c0c0"/>
<rect x="413" y="665" width="1" height="50" fill="#c0c0c0"/>
<rect x="421" y="664" width="1" height="51" fill="#c0c0c0"/>
<rect x="429" y="664" width="1" height="51" fill="#c0c0c0"/>
<rect x="437" y="662" width="1" height="53" fill="#c0c0c0"/>
<rect x="445" y="659" width="1" height="56" fill="#c0c0c0"/>
<rect x="453" y="659" width="1" height="56" fill="#c0c0c0"/>
<rect x="461" y="657" width="1" height="58" fill="#c0c0c0"/>
<rect x="469" y="658" width="1" height="57" fill="#c0c0c0"/>
<rect x="477" y="663" width="1" height="52" fill="#c0c0c0"/>
<rect x="485" y="665" width="1" height="50" fill="#c0c0c0"/>
<rect x="493" y="667" width="1" height="48" fill="#c0c0c0"/>
<rect x="501" y="667" width="1" height="48" fill="#c0c0c0"/>
<rect x="509" y="671" width="1" height="44" fill="#c0c0c0"/>
<rect x="517" y="675" width="1" height="40" fill="#c0c0c0"/>
<rect x="525" y="680" width="1" height="35" fill="#c0c0c0"/>
<rect x="533" y="683" width="1" height="32" fill="#c0c0c0"/>
<rect x="541" y="683" width="1" height="32" fill="#c0c0c0"/>
<rect x="549" y="683" width="1" height="32" fill="#c0c0c0"/>
<rect x="557" y="685" width="1" height="30" fill="#c0c0c0"/>
<rect x="565" y="688" width="1" height="27" fill="#c0c0c0"/>
<rect x="573" y="691" width="1" height="24" fill="#c0c0c0"/>
<rect x="581" y="691" width="1" height="24" fill="#c0c0c0"/>
<rect x="589" y="695" width="1" height="20" fill="#c0c0c0"/>
<rect x="597" y="699" width="1" height="16" fill="#c0c0c0"/>
<rect x="605" y="702" width="1" height="13" fill="#c0c0c0"/>
<rect x="613" y="707" width="1" height="8" fill="#c0c0c0"/>
<rect x="621" y="712" width="1" height="3" fill="#c0c0c0"/>
<rect x="629" y="714" width="1" height="3" fill="#c0c0c0"/>
<rect x="637" y="714" width="1" height="6" fill="#c0c0c0"/>
<rect x="645" y="714" width="1" height="9" fill="#c0c0c0"/>
<rect x="653" y="714" width="1" height="8" fill="#c0c0c0"/>
<rect x="661" y="714" width="1" height="6" fill="#c0c0c0"/>
<rect x="669" y="714" width="1" height="1" fill="#c0c0c0"/>
<rect x="677" y="714" width="1" height="1" fill="#c0c0c0"/>
<rect x="685" y="710" width="1" height="5" fill="#c0c0c0"/>
<rect x="693" y="706" width="1" height="9" fill="#c0c0c0"/>
<rect x="701" y="703" width="1" height="12" fill="#c0c0c0"/>
<rect x="709" y="701" width="1" height="14" fill="#c0c0c0"/>
<rect x="717" y="698" width="1" height="17" fill="#c0c0c0"/>
<rect x="725" y="696" width="1" height="19" fill="#c0c0c0"/>
<rect x="733" y="697" width="1" height="18" fill="#c0c0c0"/>
<rect x="741" y="698" width="1" height="17" fill="#c0c0c0"/>
<rect x="749" y="692" width="1" height="23" fill="#c0c0c0"/>
<rect x="757" y="687" width="1" height="28" fill="#c0c0c0"/>
<rect x="765" y="682" width="1" height="33" fill="#c0c0c0"/>
<rect x="773" y="677" width="1" height="38" fill="#c0c0c0"/>
<rect x="781" y="674" width="1" height="41" fill="#c0c0c0"/>
<rect x="789" y="670" width="1" height="45" fill="#c0c0c0"/>
<rect x="797" y="679" width="1" height="36" fill="#c0c0c0"/>
<rect x="805" y="688" width="1" height="27" fill="#c0c0c0"/>
<rect x="813" y="692" width="1" height="23" fill="#c0c0c0"/>
<rect x="821" y="693" width="1" height="22" fill="#c0c0c0"/>
<rect x="829" y="695" width="1" height="20" fill="#c0c0c0"/>
<rect x="837" y="697" width="1" height="18" fill="#c0c0c0"/>
<rect x="845" y="707" width="1" height="8" fill="#c0c0c0"/>
<rect x="853" y="713" width="1" height="2" fill="#c0c0c0"/>
<rect x="861" y="714" width="1" height="3" fill="#c0c0c0"/>
<rect x="869" y="714" width="1" height="6" fill="#c0c0c0"/>
<rect x="877" y="714" width="1" height="8" fill="#c0c0c0"/>
<rect x="885" y="714" width="1" height="6" fill="#c0c0c0"/>
<rect x="893" y="714" width="1" height="4" fill="#c0c0c0"/>
<rect x="901" y="714" width="1" height="4" fill="#c0c0c0"/>
<rect x="909" y="714" width="1" height="4" fill="#c0c0c0"/>
<rect x="917" y="714" width="1" height="4" fill="#c0c0c0"/>
<rect x="925" y="714" width="1" height="4" fill="#c0c0c0"/>
<rect x="933" y="714" width="1" height="1" fill="#c0c0c0"/>
<rect x="941" y="714" width="1" height="2" fill="#c0c0c0"/>
<rect x="949" y="714" width="1" height="1" fill="#c0c0c0"/>
<rect x="957" y="714" width="1" height="1" fill="#c0c0c0"/>
<rect x="965" y="714" width="1" height="4" fill="#c0c0c0"/>
<rect x="973" y="714" width="1" height="11" fill="#c0c0c0"/>
<rect x="981" y="714" width="1" height="19" fill="#c0c0c0"/>
<rect x="989" y="714" width="1" height="21" fill="#c0c0c0"/>
<rect x="997" y="714" width="1" height="22" fill="#c0c0c0"/>
<rect x="1005" y="714" width="1" height="24" fill="#c0c0c0"/>
<rect x="1013" y="714" width="1" height="25" fill="#c0c0c0"/>
<rect x="1021" y="714" width="1" height="26" fill="#c0c0c0"/>
<rect x="1029" y="714" width="1" height="26" fill="#c0c0c0"/>
<rect x="1037" y="714" width="1" height="26" fill="#c0c0c0"/>
<rect x="1045" y="714" width="1" height="26" fill="#c0c0c0"/>
<rect x="1053" y="714" width="1" height="24" fill="#c0c0c0"/>
<rect x="1061" y="714" width="1" height="21" fill="#c0c0c0"/>
<rect x="1069" y="714" width="1" height="19" fill="#c0c0c0"/>
<rect x="1077" y="714" width="1" height="19" fill="#c0c0c0"/>
<rect x="1085" y="714" width="1" height="18" fill="#c0c0c0"/>
<rect x="1093" y="714" width="1" height="17" fill="#c0c0c0"/>
<rect x="1101" y="714" width="1" height="16" fill="#c0c0c0"/>
<rect x="1109" y="714" width="1" height="15" fill="#c0c0c0"/>
<rect x="1117" y="714" width="1" height="8" fill="#c0c0c0"/>
<rect x="1125" y="714" width="1" height="3" fill="#c0c0c0"/>
<rect x="1133" y="714" width="1" height="1" fill="#c0c0c0"/>
<rect x="1141" y="711" width="1" height="4" fill="#c0c0c0"/>
<rect x="1149" y="707" width="1" height="8" fill="#c0c0c0"/>
<rect x="1157" y="705" width="1" height="10" fill="#c0c0c0"/>
<rect x="1165" y="702" width="1" height="13" fill="#c0c0c0"/>
<rect x="1173" y="702" width="1" height="13" fill="#c0c0c0"/>
<rect x="1181" y="702" width="1" height="13" fill="#c0c0c0"/>
<rect x="1189" y="700" width="1" height="15" fill="#c0c0c0"/>
<rect x="1197" y="697" width="1" height="18" fill="#c0c0c0"/>
<rect x="1205" y="696" width="1" height="19" fill="#c0c0c0"/>
<rect x="1213" y="696" width="1" height="19" fill="#c0c0c0"/>
<rect x="1221" y="697" width="1" height="18" fill="#c0c0c0"/>
<rect x="1229" y="700" width="1" height="15" fill="#c0c0c0"/>
<rect x="1237" y="703" width="1" height="12" fill="#c0c0c0"/>
<rect x="1245" y="705" width="1" height="10" fill="#c0c0c0"/>
</g>
<polyline clip-path="url(#cd)" points="5.4,731.2 30.8,731.2 40.0,728.8 49.2,725.4 61.5,720.5 67.7,716.9 76.9,710.8 86.2,703.8 95.4,698.5 104.6,693.1 113.8,689.7 123.1,686.9 132.3,685.4 144.6,685.1 153.8,684.2 169.2,683.1 190.8,682.0 196.9,681.2 215.4,680.5 230.8,679.2 246.2,678.5 261.0,676.5 277.0,676.2 293.0,673.0 309.0,670.5 325.0,667.2 341.0,664.2 349.0,662.3 373.0,662.6 397.0,665.0 413.0,666.5 429.0,667.2 445.0,666.2 461.0,663.4 469.0,661.0 485.0,660.5 495.0,660.5 503.0,661.5 512.0,662.3 518.0,664.6 528.0,667.2 535.0,670.0 541.5,672.8 547.7,673.4 554.0,675.4 560.0,676.5 566.0,678.5 575.0,682.0 584.6,683.8 594.0,687.2 603.0,690.3 612.3,692.3 618.5,695.0 626.0,697.4 634.0,701.5 643.0,706.0 649.0,708.5 655.4,711.2 661.5,713.4 670.8,715.4 680.0,717.0 686.0,717.4 695.4,715.8 701.5,714.3 709.0,712.8 717.0,710.3 726.0,705.7 732.3,704.2 738.5,703.0 744.6,700.8 757.0,697.4 764.6,695.4 773.8,691.2 781.5,688.2 787.7,686.2 797.0,683.5 806.0,682.3 818.5,681.5 827.7,682.3 840.0,685.4 847.7,688.2 853.8,691.8 860.0,696.2 866.0,699.5 875.4,704.6 883.0,708.5 890.8,710.8 900.0,713.8 907.7,717.0 918.5,718.5 932.3,719.2 944.6,719.2 957.0,717.7 969.0,717.4 978.5,719.2 987.7,722.0 997.0,724.8 1013.5,729.4 1024.6,733.4 1037.5,737.1 1046.8,739.5 1070.8,739.0 1081.8,737.1 1100.3,735.3 1115.0,732.2 1126.0,729.4 1137.2,725.7 1152.0,719.8 1163.0,715.5 1174.2,711.8 1185.2,706.3 1196.3,703.5 1207.4,700.8 1222.0,698.9 1231.4,698.4 1240.6,698.4 1244.3,699.8" fill="none" stroke="#ff0000" stroke-width="1" stroke-dasharray="3,2" shape-rendering="crispEdges"/>
<text x="9.50" y="663" font-size="9.4" fill="#000" color="#000" textLength="147.50" lengthAdjust="spacingAndGlyphs">MACD(12,26,9) 0.001419 0.002162</text>
<text x="1585.30" y="661" font-size="9.4" fill="#000" color="#000" textLength="37.21" lengthAdjust="spacingAndGlyphs">0.008782</text>
<text x="1585.30" y="718" font-size="9.4" fill="#000" color="#000" textLength="17.41" lengthAdjust="spacingAndGlyphs">0.00</text>
<text x="1585.30" y="744" font-size="9.4" fill="#000" color="#000" textLength="41.69" lengthAdjust="spacingAndGlyphs">-0.004451</text>
<g shape-rendering="crispEdges">
<rect x="1582" y="714" width="2" height="1" fill="#000"/>
</g>
<g shape-rendering="crispEdges">
<rect x="5" y="747" width="1" height="3" fill="#000"/>
<rect x="69" y="747" width="1" height="3" fill="#000"/>
<rect x="133" y="747" width="1" height="3" fill="#000"/>
<rect x="197" y="747" width="1" height="3" fill="#000"/>
<rect x="261" y="747" width="1" height="3" fill="#000"/>
<rect x="325" y="747" width="1" height="3" fill="#000"/>
<rect x="389" y="747" width="1" height="3" fill="#000"/>
<rect x="453" y="747" width="1" height="3" fill="#000"/>
<rect x="517" y="747" width="1" height="3" fill="#000"/>
<rect x="581" y="747" width="1" height="3" fill="#000"/>
<rect x="645" y="747" width="1" height="3" fill="#000"/>
<rect x="709" y="747" width="1" height="3" fill="#000"/>
<rect x="773" y="747" width="1" height="3" fill="#000"/>
<rect x="837" y="747" width="1" height="3" fill="#000"/>
<rect x="901" y="747" width="1" height="3" fill="#000"/>
<rect x="965" y="747" width="1" height="3" fill="#000"/>
<rect x="1029" y="747" width="1" height="3" fill="#000"/>
<rect x="1093" y="747" width="1" height="3" fill="#000"/>
<rect x="1157" y="747" width="1" height="3" fill="#000"/>
<rect x="1221" y="747" width="1" height="3" fill="#000"/>
</g>
<text x="4.10" y="759" font-size="9.4" fill="#000" color="#000" textLength="50.68" lengthAdjust="spacingAndGlyphs">31 Oct 2020</text>
<text x="68.60" y="759" font-size="9.4" fill="#000" color="#000" textLength="53.31" lengthAdjust="spacingAndGlyphs">10 Nov 2020</text>
<text x="132.40" y="759" font-size="9.4" fill="#000" color="#000" textLength="53.41" lengthAdjust="spacingAndGlyphs">19 Nov 2020</text>
<text x="196.00" y="759" font-size="9.4" fill="#000" color="#000" textLength="53.81" lengthAdjust="spacingAndGlyphs">28 Nov 2020</text>
<text x="260.00" y="759" font-size="9.4" fill="#000" color="#000" textLength="46.70" lengthAdjust="spacingAndGlyphs">8 Dec 2020</text>
<text x="324.10" y="759" font-size="9.4" fill="#000" color="#000" textLength="51.11" lengthAdjust="spacingAndGlyphs">17 Dec 2020</text>
<text x="388.00" y="759" font-size="9.4" fill="#000" color="#000" textLength="51.81" lengthAdjust="spacingAndGlyphs">28 Dec 2020</text>
<text x="452.40" y="759" font-size="9.4" fill="#000" color="#000" textLength="44.29" lengthAdjust="spacingAndGlyphs">7 Jan 2021</text>
<text x="516.00" y="759" font-size="9.4" fill="#000" color="#000" textLength="49.70" lengthAdjust="spacingAndGlyphs">16 Jan 2021</text>
<text x="580.00" y="759" font-size="9.4" fill="#000" color="#000" textLength="49.10" lengthAdjust="spacingAndGlyphs">26 Jan 2021</text>
<text x="643.70" y="759" font-size="9.4" fill="#000" color="#000" textLength="46.70" lengthAdjust="spacingAndGlyphs">4 Feb 2021</text>
<text x="708.60" y="759" font-size="9.4" fill="#000" color="#000" textLength="51.21" lengthAdjust="spacingAndGlyphs">13 Feb 2021</text>
<text x="772.40" y="759" font-size="9.4" fill="#000" color="#000" textLength="51.41" lengthAdjust="spacingAndGlyphs">23 Feb 2021</text>
<text x="836.00" y="759" font-size="9.4" fill="#000" color="#000" textLength="46.69" lengthAdjust="spacingAndGlyphs">4 Mar 2021</text>
<text x="900.40" y="759" font-size="9.4" fill="#000" color="#000" textLength="50.70" lengthAdjust="spacingAndGlyphs">13 Mar 2021</text>
<text x="964.10" y="759" font-size="9.4" fill="#000" color="#000" textLength="51.10" lengthAdjust="spacingAndGlyphs">23 Mar 2021</text>
<text x="1028.60" y="759" font-size="9.4" fill="#000" color="#000" textLength="44.68" lengthAdjust="spacingAndGlyphs">1 Apr 2021</text>
<text x="1092.40" y="759" font-size="9.4" fill="#000" color="#000" textLength="50.39" lengthAdjust="spacingAndGlyphs">10 Apr 2021</text>
<text x="1156.00" y="759" font-size="9.4" fill="#000" color="#000" textLength="50.09" lengthAdjust="spacingAndGlyphs">20 Apr 2021</text>
<text x="1220.40" y="759" font-size="9.4" fill="#000" color="#000" textLength="50.29" lengthAdjust="spacingAndGlyphs">29 Apr 2021</text>
<text x="44.70" y="11" font-size="9.4" fill="#333333" color="#333333" textLength="12.49" lengthAdjust="spacingAndGlyphs">M1</text>
<text x="72.80" y="11" font-size="9.4" fill="#333333" color="#333333" textLength="12.29" lengthAdjust="spacingAndGlyphs">M5</text>
<text x="98.90" y="11" font-size="9.4" fill="#333333" color="#333333" textLength="17.20" lengthAdjust="spacingAndGlyphs">M15</text>
<text x="126.00" y="11" font-size="9.4" fill="#333333" color="#333333" textLength="18.00" lengthAdjust="spacingAndGlyphs">M30</text>
<text x="157.50" y="11" font-size="9.4" fill="#333333" color="#333333" textLength="11.49" lengthAdjust="spacingAndGlyphs">H1</text>
<text x="184.80" y="11" font-size="9.4" fill="#333333" color="#333333" textLength="12.18" lengthAdjust="spacingAndGlyphs">H4</text>
<text x="213.60" y="11" font-size="9.4" fill="#333333" color="#333333" textLength="11.39" lengthAdjust="spacingAndGlyphs">D1</text>
<text x="241.00" y="11" font-size="9.4" fill="#333333" color="#333333" textLength="14.00" lengthAdjust="spacingAndGlyphs">W1</text>
<text x="267.50" y="11" font-size="9.4" fill="#333333" color="#333333" textLength="14.50" lengthAdjust="spacingAndGlyphs">MN</text>
<polygon points="0,1 1.5,1 4,4.5 1.5,5.5 0,5.5" fill="#484848"/>
<polyline points="0,8.5 1.5,10.5 5.6,5.4" fill="none" stroke="#484848" stroke-width="1.4"/>
<polygon points="4,10 6,9 9,9 11,10.3 7.5,14" fill="#484848"/>
<polygon points="18,6 23,6 20.5,9" fill="#000"/>
<g shape-rendering="crispEdges">
<rect x="110" y="772" width="1" height="13" fill="#808080"/>
<rect x="418" y="772" width="1" height="13" fill="#808080"/>
<rect x="522" y="772" width="1" height="13" fill="#808080"/>
<rect x="626" y="772" width="1" height="13" fill="#808080"/>
<rect x="730" y="772" width="1" height="13" fill="#808080"/>
<rect x="823" y="772" width="1" height="13" fill="#808080"/>
<rect x="906" y="772" width="1" height="13" fill="#808080"/>
<rect x="986" y="772" width="1" height="13" fill="#808080"/>
<rect x="1066" y="772" width="1" height="13" fill="#808080"/>
<rect x="1146" y="772" width="1" height="13" fill="#808080"/>
<rect x="1222" y="772" width="1" height="13" fill="#808080"/>
<rect x="1294" y="772" width="1" height="13" fill="#808080"/>
<rect x="1378" y="772" width="1" height="13" fill="#808080"/>
<rect x="1474" y="772" width="1" height="13" fill="#808080"/>
<rect x="1574" y="772" width="1" height="13" fill="#808080"/>
<rect x="210" y="769" width="104" height="18" fill="#ffffff"/>
<rect x="210" y="769" width="1" height="19" fill="#000"/>
<rect x="313" y="769" width="1" height="19" fill="#000"/>
<rect x="210" y="787" width="104" height="1" fill="#000"/>
<rect x="1582" y="771" width="43" height="17" fill="#f0f0f0"/>
</g>
<text x="18.00" y="784" font-size="12" fill="#555555" color="#555555" textLength="79.98" lengthAdjust="spacingAndGlyphs">EURUSD,Daily</text>
<text x="120.00" y="784" font-size="12" fill="#555555" color="#555555" textLength="79.02" lengthAdjust="spacingAndGlyphs">USDCHF,Daily</text>
<text x="221.40" y="784" font-size="12" fill="#000" color="#000" textLength="81.58" lengthAdjust="spacingAndGlyphs">AUDUSD,Daily</text>
<text x="325.00" y="784" font-size="12" fill="#555555" color="#555555" textLength="80.58" lengthAdjust="spacingAndGlyphs">USDCAD,Daily</text>
<text x="428.00" y="784" font-size="12" fill="#555555" color="#555555" textLength="82.98" lengthAdjust="spacingAndGlyphs">USDCNH,Daily</text>
<text x="534.00" y="784" font-size="12" fill="#555555" color="#555555" textLength="79.98" lengthAdjust="spacingAndGlyphs">EURUSD,Daily</text>
<text x="638.00" y="784" font-size="12" fill="#555555" color="#555555" textLength="79.59" lengthAdjust="spacingAndGlyphs">GBPUSD,Daily</text>
<text x="741.00" y="784" font-size="12" fill="#555555" color="#555555" textLength="68.39" lengthAdjust="spacingAndGlyphs">XAUUSD,H4</text>
<text x="834.00" y="784" font-size="12" fill="#555555" color="#555555" textLength="60.00" lengthAdjust="spacingAndGlyphs">HK50,M15</text>
<text x="917.00" y="784" font-size="12" fill="#555555" color="#555555" textLength="56.49" lengthAdjust="spacingAndGlyphs">UK100,H1</text>
<text x="997.60" y="784" font-size="12" fill="#555555" color="#555555" textLength="56.39" lengthAdjust="spacingAndGlyphs">UK100,H1</text>
<text x="1077.00" y="784" font-size="12" fill="#555555" color="#555555" textLength="57.01" lengthAdjust="spacingAndGlyphs">GER30,H1</text>
<text x="1156.00" y="784" font-size="12" fill="#555555" color="#555555" textLength="54.98" lengthAdjust="spacingAndGlyphs">FRA40,H1</text>
<text x="1232.00" y="784" font-size="12" fill="#555555" color="#555555" textLength="50.97" lengthAdjust="spacingAndGlyphs">USOil,H1</text>
<text x="1304.00" y="784" font-size="12" fill="#555555" color="#555555" textLength="62.97" lengthAdjust="spacingAndGlyphs">USDJPY,H1</text>
<text x="1389.00" y="784" font-size="12" fill="#555555" color="#555555" textLength="72.97" lengthAdjust="spacingAndGlyphs">DJ30,Weekly</text>
<text x="1484.00" y="784" font-size="12" fill="#555555" color="#555555" textLength="78.01" lengthAdjust="spacingAndGlyphs">CHINA300,H1</text>
<text x="1584.00" y="784" font-size="12" fill="#555555" color="#555555" textLength="7.02" lengthAdjust="spacingAndGlyphs">U</text>
<polygon points="1600,775 1600,781 1597,778" fill="#a0a0a0"/>
<polygon points="1616,775 1616,781 1619,778" fill="#000"/>
</svg></body></html>
